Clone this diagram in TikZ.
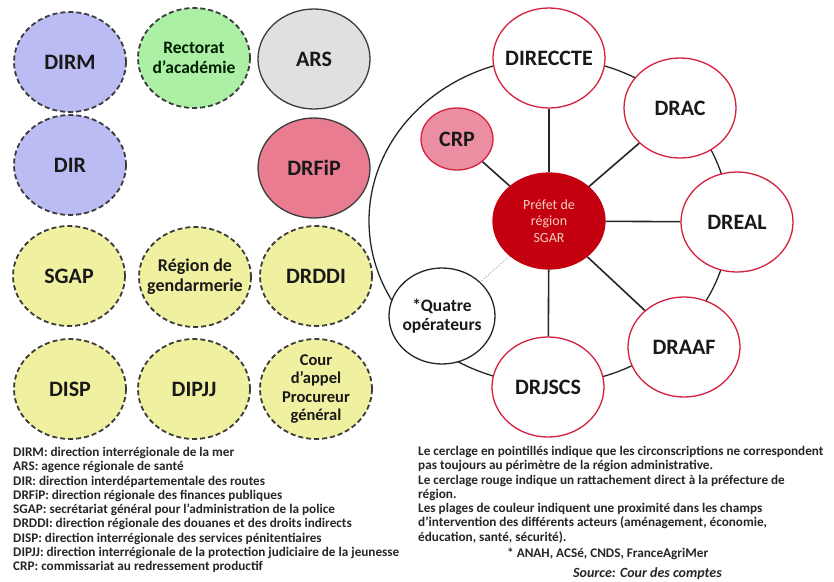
\documentclass[tikz,border=0pt]{standalone}
\usepackage{fontspec}
\setmainfont{Carlito}
\usetikzlibrary{shapes.geometric,backgrounds}

% fill and line colours
\definecolor{lavender}{RGB}{188,188,244}
\definecolor{mintgreen}{RGB}{172,240,166}
\definecolor{palegray}{RGB}{226,223,227}
\definecolor{rosepink}{RGB}{234,124,146}
\definecolor{paleyellow}{RGB}{240,241,160}
\definecolor{crppink}{RGB}{236,142,162}
\definecolor{prefetred}{RGB}{196,0,16}
\definecolor{ringred}{RGB}{214,32,62}
\definecolor{prefettext}{RGB}{246,206,186}
\definecolor{darkline}{RGB}{60,60,60}

\tikzset{
  agency/.style={ellipse, minimum width=112, minimum height=100, inner sep=0pt, line width=1.3pt},
  dashedagency/.style={agency, draw=darkline, dash pattern=on 5pt off 3pt, line width=1.8pt},
  solidagency/.style={agency, draw=darkline},
  redagency/.style={agency, draw=ringred, fill=white},
  biglbl/.style={font=\fontsize{22}{25}\selectfont\bfseries, text=black!90},
  smalllbl/.style={font=\fontsize{17.5}{19.5}\selectfont\bfseries, align=center, text=black!90},
  spoke/.style={line width=1.6pt, draw=black!85},
  legendtext/.style={font=\fontsize{13.2}{14.3}\selectfont\bfseries, align=left, inner sep=0pt, text=black!85},
}

\begin{document}
\begin{tikzpicture}[x=1pt, y=-1pt]

    % Page frame, with the reference's margins
    \path[use as bounding box] (0,0) rectangle (834,581);

    % Services on the left: dashed circles do not follow the region
    \node[dashedagency, fill=lavender, label={[biglbl]center:DIRM}] (dirm) at (70,62) {};
    \node[dashedagency, fill=mintgreen, label={[smalllbl, text=black!70!green!40!black]center:{Rectorat\\d'académie}}] (rectorat) at (194,58) {};
    \node[solidagency, fill=palegray, label={[biglbl]center:ARS}] (ars) at (314,59) {};
    \node[dashedagency, fill=lavender, label={[biglbl]center:DIR}] (dir) at (70,165) {};
    \node[solidagency, fill=rosepink, label={[biglbl]center:DRFiP}] (drfip) at (314,168) {};
    \node[dashedagency, fill=paleyellow, label={[biglbl]center:SGAP}] (sgap) at (69,276) {};
    \node[dashedagency, fill=paleyellow, label={[smalllbl, font=\fontsize{18}{20}\selectfont\bfseries]center:{Région de\\gendarmerie}}] (gendarmerie) at (195,277) {};
    \node[dashedagency, fill=paleyellow, label={[biglbl]center:DRDDI}] (drddi) at (316,276) {};
    \node[dashedagency, fill=paleyellow, label={[biglbl]center:DISP}] (disp) at (70,389) {};
    \node[dashedagency, fill=paleyellow, label={[biglbl]center:DIPJJ}] (dipjj) at (194,389) {};
    \node[dashedagency, fill=paleyellow, label={[smalllbl, font=\fontsize{16.5}{18.5}\selectfont\bfseries]center:{Cour\\d'appel\\Procureur\\général}}] (cour) at (316,389) {};

    % Prefect in the middle of the right group
    \node[agency, minimum height=96, fill=prefetred, draw=prefetred,
          label={[font=\fontsize{14}{16.5}\selectfont, align=center, text=prefettext]center:{Préfet de\\région\\SGAR}}] (prefet) at (549,221) {};

    % Regional directions on the ring (red: direct link to the prefecture)
    \node[redagency, label={[biglbl]center:DIRECCTE}] (direccte) at (549,58) {};
    \node[redagency, label={[biglbl]center:DRAC}] (drac) at (680,108) {};
    \node[redagency, label={[biglbl]center:DREAL}] (dreal) at (737,222) {};
    \node[redagency, label={[biglbl]center:DRAAF}] (draaf) at (684,347) {};
    \node[redagency, label={[biglbl]center:DRJSCS}] (drjscs) at (548,387) {};
    \node[agency, minimum width=72, minimum height=62, draw=ringred, fill=crppink,
          label={[biglbl]center:CRP}] (crp) at (457,139) {};
    \node[agency, minimum width=106, minimum height=96, draw=black!85, fill=white,
          label={[smalllbl]center:{*Quatre\\opérateurs}}] (quatre) at (442,316) {};

    % White page, then the ring round the prefect, behind the circles
    \begin{scope}[on background layer]
        \fill[white] (0,0) rectangle (834,581);
        \draw[line width=1.3pt, black!85] (prefet.center) ellipse [x radius=180, y radius=163];
    \end{scope}

    % Spokes from the prefect
    \foreach \target in {direccte, drac, dreal, draaf, drjscs, crp}
        \draw[spoke] (prefet) -- (\target);
    \draw[line width=0.8pt, black!50, dotted] (prefet) -- (quatre);

    % Abbreviations
    \node[legendtext, anchor=north west] (legendleft) at (13,447) {DIRM: direction interrégionale de la mer\\
        ARS: agence régionale de santé\\
        DIR: direction interdépartementale des routes\\
        DRFiP: direction régionale des finances publiques\\
        SGAP: secrétariat général pour l'administration de la police\\
        DRDDI: direction régionale des douanes et des droits indirects\\
        DISP: direction interrégionale des services pénitentiaires\\
        DIPJJ: direction interrégionale de la protection judiciaire de la jeunesse\\
        CRP: commissariat au redressement productif};

    % Reading notes
    \node[legendtext, anchor=north west] (legendright) at (418,446) {Le cerclage en pointillés indique que les circonscriptions ne correspondent\\
        pas toujours au périmètre de la région administrative.\\
        Le cerclage rouge indique un rattachement direct à la préfecture de\\
        région.\\
        Les plages de couleur indiquent une proximité dans les champs\\
        d'intervention des différents acteurs (aménagement, économie,\\
        éducation, santé, sécurité).};
    \node[legendtext, anchor=base west] (asterisk) at (507,557) {* ANAH, ACSé, CNDS, FranceAgriMer};
    \node[legendtext, anchor=base west, font=\fontsize{14}{15}\selectfont\bfseries\itshape] (source) at (573,577) {Source: Cour des comptes};

\end{tikzpicture}
\end{document}
